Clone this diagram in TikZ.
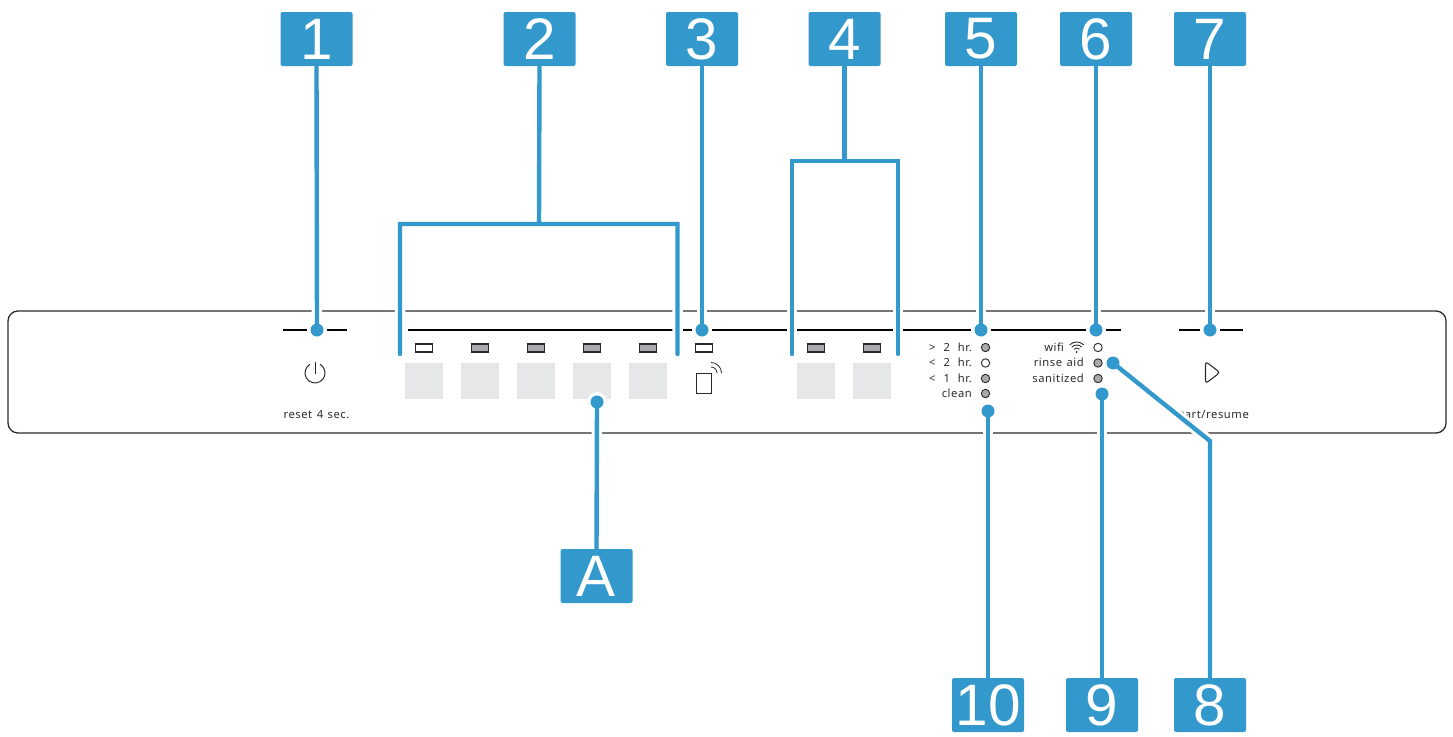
\documentclass[tikz,border=0pt]{standalone}
\usepackage{fontspec}
\setmainfont{Liberation Sans}
\newfontfamily\panelfont[LetterSpace=5,WordSpace=1.3]{Noto Sans}
\definecolor{leadblue}{HTML}{3399CC}
\definecolor{ledgray}{HTML}{A7A9AC}
\definecolor{keygray}{HTML}{E6E7E8}
\definecolor{ink}{HTML}{2B2B2B}
\tikzset{
  badge/.style={fill=leadblue,rounded corners=2pt,minimum width=72pt,minimum height=54pt,inner sep=0pt,text=white,font=\fontsize{58.5}{58.5}\selectfont},
  lead/.style={draw=leadblue,line width=4.4pt,line join=miter,preaction={draw=white,line width=10.5pt}},
  halodot/.style={circle,fill=white,minimum size=20pt,inner sep=0pt},
  leaddot/.style={circle,fill=leadblue,minimum size=13pt,inner sep=0pt},
  panelline/.style={draw=ink,line width=1.3pt},
  scaleline/.style={draw=black,line width=1.6pt},
  keypad/.style={fill=keygray,minimum width=38pt,minimum height=36pt,inner sep=0pt},
  ledbar/.style={draw=ink,line width=1.3pt,fill=ledgray,minimum width=17pt,minimum height=8pt,inner sep=0pt},
  ledbaroff/.style={ledbar,fill=white},
  ledround/.style={circle,draw=ink,line width=.9pt,fill=ledgray,minimum size=8.4pt,inner sep=0pt},
  ledroundoff/.style={ledround,fill=white},
  lbl/.style={inner sep=0pt,text=ink,font=\panelfont\fontsize{11.2}{12}\selectfont},
  lblr/.style={lbl,anchor=east},
  icon/.style={draw=ink,line width=1pt}
}
\begin{document}
\begin{tikzpicture}[x=1pt,y=-1pt]
\useasboundingbox (0,0) rectangle (1453,736);
% panel
\draw[panelline,rounded corners=10pt] (8,311) rectangle (1446,433);
% scale lines
\draw[scaleline] (283,330) -- (347,330);
\draw[scaleline] (408,330) -- (1121,330);
\draw[scaleline] (1179,330) -- (1243,330);
% keys
\node[keypad] (k1) at (424,381) {};
\node[keypad] (k2) at (480,381) {};
\node[keypad] (k3) at (536,381) {};
\node[keypad] (k4) at (592,381) {};
\node[keypad] (k5) at (648,381) {};
\node[keypad] (k6) at (816,381) {};
\node[keypad] (k7) at (872,381) {};
% bar LEDs
\node[ledbaroff] (l1) at (424,348) {};
\node[ledbar] (l2) at (480,348) {};
\node[ledbar] (l3) at (536,348) {};
\node[ledbar] (l4) at (592,348) {};
\node[ledbar] (l5) at (648,348) {};
\node[ledbaroff] (l6) at (704,348) {};
\node[ledbar] (l7) at (816,348) {};
\node[ledbar] (l8) at (872,348) {};
% round LEDs
\node[ledround] (t1) at (985.5,347.5) {};
\node[ledroundoff] (t2) at (985.5,363) {};
\node[ledround] (t3) at (985.5,378.5) {};
\node[ledround] (t4) at (985.5,393.5) {};
\node[ledroundoff] (s1) at (1098,347.5) {};
\node[ledround] (s2) at (1098,363) {};
\node[ledround] (s3) at (1098,378.5) {};
% texts
\node[lblr] (x1) at (972,347.5) {>\hspace{3.5pt} 2\hspace{3.5pt} hr.};
\node[lblr] (x2) at (972,362.5) {<\hspace{3.5pt} 2\hspace{3.5pt} hr.};
\node[lblr] (x3) at (972,378) {<\hspace{3.5pt} 1\hspace{3.5pt} hr.};
\node[lblr] (x4) at (972,393.5) {clean};
\node[lblr] (y1) at (1064,347.5) {wifi};
\node[lblr] (y2) at (1084,362.5) {rinse aid};
\node[lblr] (y3) at (1084,378) {sanitized};
\node[lbl] (r1) at (316.5,415) {reset 4 sec.};
\node[lblr] (r2) at (1249,415) {start/resume};
% power icon
\draw[icon] (310,364.3) arc[start angle=120,end angle=420,radius=10pt];
\draw[icon] (315,362) -- (315,373.5);
% phone icon
\draw[icon] (696,373) rectangle (711,393);
\draw[icon,line width=.8pt] (711,367) arc[start angle=90,end angle=0,radius=6pt];
\draw[icon,line width=.8pt] (711,362.5) arc[start angle=90,end angle=0,radius=10.5pt];
% play icon
\draw[icon,line width=1.1pt,rounded corners=3pt] (1205.5,361.5) -- (1220,372.5) -- (1205.5,383.5) -- cycle;
% wifi icon
\draw[icon,line width=.9pt] (1069.6,344.9) arc[start angle=135,end angle=45,radius=10pt];
\draw[icon,line width=.9pt] (1071.75,347.05) arc[start angle=135,end angle=45,radius=7pt];
\draw[icon,line width=.9pt] (1073.9,349.2) arc[start angle=135,end angle=45,radius=4pt];
\node[circle,fill=ink,minimum size=2pt,inner sep=0pt] (w0) at (1076.7,352) {};
% badges
\node[badge] (b1) at (316.5,39) {1};
\node[badge] (b2) at (539.5,39) {2};
\node[badge] (b3) at (702,39) {3};
\node[badge] (b4) at (844.5,39) {4};
\node[badge] (b5) at (981,39) {5};
\node[badge] (b6) at (1096,39) {6};
\node[badge] (b7) at (1210,39) {7};
\node[badge] (bA) at (596.5,576) {A};
\node[badge] (b10) at (988,705) {10};
\node[badge] (b9) at (1102,705) {9};
\node[badge] (b8) at (1210,705) {8};
% connector ends
\coordinate (d1) at (317,330);
\coordinate (d3) at (702,330);
\coordinate (d5) at (981,330);
\coordinate (d6) at (1096,330);
\coordinate (d7) at (1210,330);
\coordinate (dA) at (597,402);
\coordinate (d10) at (988,411);
\coordinate (d9) at (1102,394);
\coordinate (d8) at (1113,363);
\coordinate (c2) at (539,224);
\coordinate (c2l) at (400,224);
\coordinate (c2r) at (677.5,224);
\coordinate (e2l) at (400,354);
\coordinate (e2r) at (677.5,354);
\coordinate (c4) at (844.5,161);
\coordinate (c4l) at (792,161);
\coordinate (c4r) at (898,161);
\coordinate (e4l) at (792,354);
\coordinate (e4r) at (898,354);
\coordinate (k8) at (1210,441);
% dot halos
\node[halodot] (h1) at (d1) {};
\node[halodot] (h3) at (d3) {};
\node[halodot] (h5) at (d5) {};
\node[halodot] (h6) at (d6) {};
\node[halodot] (h7) at (d7) {};
\node[halodot] (hA) at (dA) {};
% connectors
\draw[lead] (b1.south) -- (d1);
\draw[lead] (b3.south) -- (d3);
\draw[lead] (b5.south) -- (d5);
\draw[lead] (b6.south) -- (d6);
\draw[lead] (b7.south) -- (d7);
\draw[lead] (bA.north) -- (dA);
\draw[lead] (b10.north) -- (d10);
\draw[lead] (b9.north) -- (d9);
\draw[lead] (b8.north) -- (k8) -- (d8);
\draw[lead,line cap=round] (e2l) -- (c2l) -- (c2r) -- (e2r) (b2.south) -- (c2);
\draw[lead,line cap=round] (e4l) -- (c4l) -- (c4r) -- (e4r) (b4.south) -- (c4);
% dots
\node[leaddot] (p1) at (d1) {};
\node[leaddot] (p3) at (d3) {};
\node[leaddot] (p5) at (d5) {};
\node[leaddot] (p6) at (d6) {};
\node[leaddot] (p7) at (d7) {};
\node[leaddot] (pA) at (dA) {};
\node[leaddot] (p10) at (d10) {};
\node[leaddot] (p9) at (d9) {};
\node[leaddot] (p8) at (d8) {};
\end{tikzpicture}
\end{document}
